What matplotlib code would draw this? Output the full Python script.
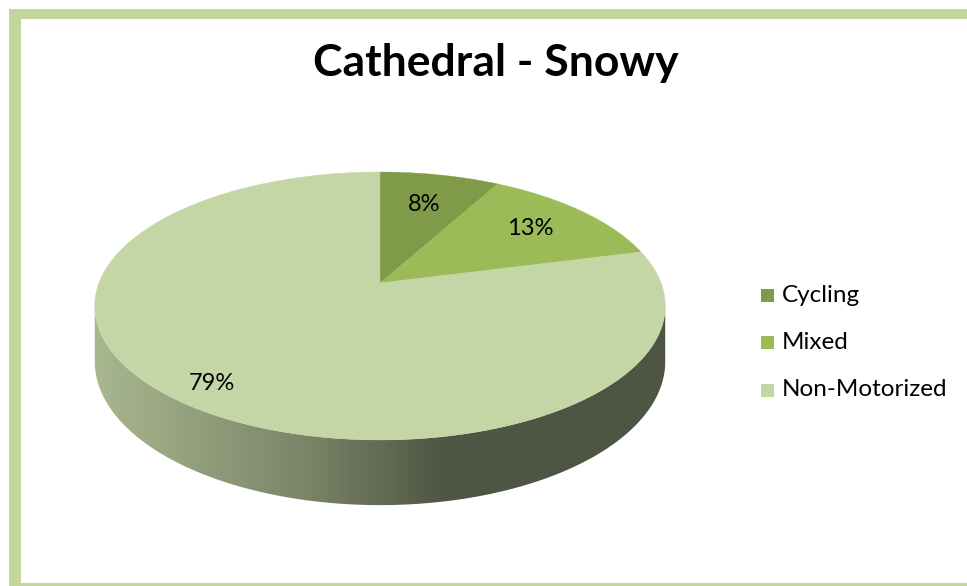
import numpy as np
import matplotlib
matplotlib.use("Agg")
import matplotlib.pyplot as plt
from matplotlib.patches import Polygon, Rectangle

# ---------------- data ----------------
title = "Cathedral - Snowy"
categories = ["Cycling", "Mixed", "Non-Motorized"]
values = [8, 13, 79]
colors = ["#7F9A48", "#9BBB59", "#C4D5A6"]

# ---------------- layout ----------------
W, H = 967, 586
FONT = ["Lato", "DejaVu Sans"]
fig = plt.figure(figsize=(W / 100, H / 100), dpi=100)
ax = fig.add_axes([0, 0, 1, 1])
ax.set_xlim(0, W)
ax.set_ylim(H, 0)
ax.axis("off")

# perspective projection of a flat disc
cx, cy = 380, 283
A, K, E, D = 281, 130, 0.1716, 54


def proj(t, r=1.0, z=0.0):
    u, v = r * np.cos(t), r * np.sin(t)
    den = 1 + E * v
    return cx + A * u / den, cy + (-K * v + D * z) / den


# frame (thick green border, right side cut off)
frame_c = "#C3D69B"
ax.add_patch(Rectangle((9, 9), 12, H - 9, facecolor=frame_c, edgecolor="none", zorder=0))
ax.add_patch(Rectangle((9, 9), W - 9, 10, facecolor=frame_c, edgecolor="none", zorder=0))
ax.add_patch(Rectangle((9, 583), W - 9, 3, facecolor=frame_c, edgecolor="none", zorder=0))

total = float(sum(values))
fracs = np.array(values) / total
cum = np.concatenate([[0], np.cumsum(fracs)])
t_start = np.pi / 2 - 2 * np.pi * cum[:-1]
t_end = np.pi / 2 - 2 * np.pi * cum[1:]

# visible front side range (t decreasing from right silhouette to left)
t_r = -np.arcsin(E)
t_l = -np.pi + np.arcsin(E)

# horizontal shading for the sides
xs = np.arange(W)
shade = np.interp(xs, [95, 300, 445, 665], [0.86, 0.63, 0.40, 0.40])

for i in range(len(values)):
    for k in range(-2, 3):
        a0 = t_start[i] + 2 * np.pi * k
        a1 = t_end[i] + 2 * np.pi * k
        s0 = min(a0, t_r)
        s1 = max(a1, t_l)
        if s0 > s1:
            ts = np.linspace(s0, s1, 200)
            tx, ty = proj(ts)
            bx, by = proj(ts[::-1], z=1.0)
            poly = np.column_stack([np.concatenate([tx, bx]),
                                    np.concatenate([ty, by])])
            rgb = np.array(matplotlib.colors.to_rgb(colors[i]))
            img = np.ones((2, W, 3)) * rgb[None, None, :] * shade[None, :, None]
            patch = Polygon(poly, closed=True, facecolor="none",
                            edgecolor="none")
            ax.add_patch(patch)
            im = ax.imshow(np.clip(img, 0, 1), extent=(0, W, H, 0),
                           aspect="auto", zorder=1, interpolation="bilinear")
            im.set_clip_path(patch)

# top faces
for i in range(len(values)):
    ts = np.linspace(t_start[i], t_end[i], 300)
    x, y = proj(ts)
    poly = np.column_stack([np.concatenate([[cx], x]),
                            np.concatenate([[cy], y])])
    ax.add_patch(Polygon(poly, closed=True, facecolor=colors[i],
                         edgecolor=colors[i], linewidth=0.3, zorder=2))

# labels
label_r = [0.70, 0.73, 0.86]
for i in range(len(values)):
    tm = (t_start[i] + t_end[i]) / 2
    lx, ly = proj(tm, r=label_r[i])
    ax.text(lx, ly, f"{values[i]:.0f}%", ha="center", va="center",
            fontsize=17, family=FONT, color="black", zorder=3)

# title
ax.text(496, 63, title, ha="center", va="center", fontsize=32,
        fontweight="bold", family=FONT, color="black")

# legend
for i, name in enumerate(categories):
    yy = 295 + 47.5 * i
    ax.add_patch(Rectangle((761, yy - 6.5), 13, 13, facecolor=colors[i],
                           edgecolor="none"))
    ax.text(782, yy, name, ha="left", va="center", fontsize=17.5,
            family=FONT, color="black")

fig.savefig("out.png", dpi=100)
